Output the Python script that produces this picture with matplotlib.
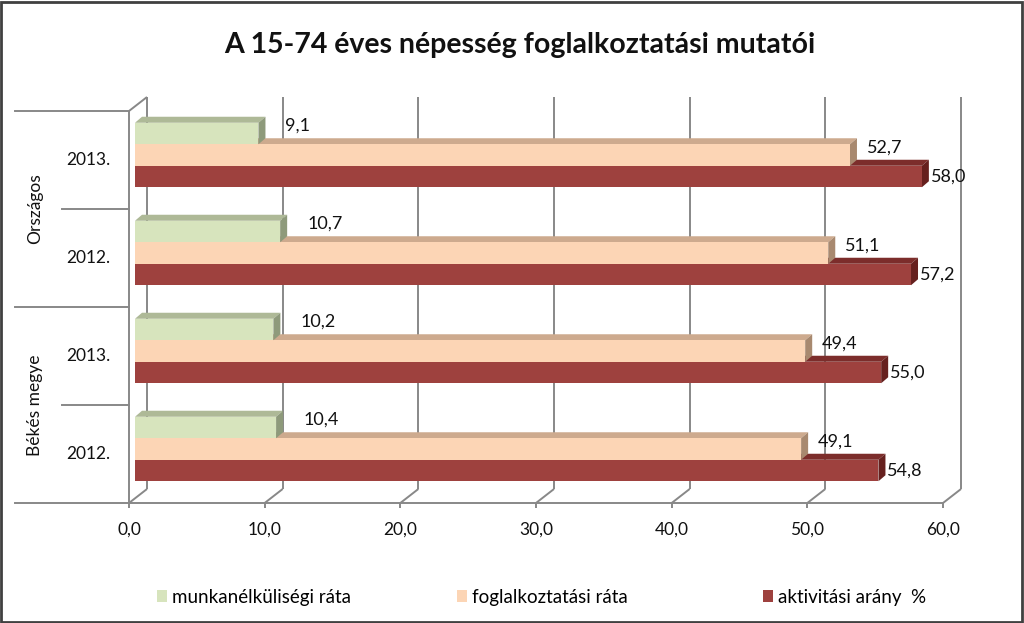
import matplotlib
matplotlib.use("Agg")
import matplotlib.pyplot as plt
import matplotlib.transforms as mtransforms
from matplotlib.patches import Polygon, Patch, Rectangle

plt.rcParams["font.family"] = ["Lato", "DejaVu Sans"]

# --- data ---
groups = ["Békés megye", "Országos"]
years = ["2012.", "2013.", "2012.", "2013."]          # bottom -> top
series = ["munkanélküliségi ráta", "foglalkoztatási ráta", "aktivitási arány  %"]
unemployment = [10.4, 10.2, 10.7, 9.1]
employment = [49.1, 49.4, 51.1, 52.7]
activity = [54.8, 55.0, 57.2, 58.0]
xticks = [0, 10, 20, 30, 40, 50, 60]

front_col = ["#D7E4BD", "#FCD5B5", "#9E413E"]
top_col = ["#AEB997", "#CDAA8E", "#7C2D2B"]
side_col = ["#8E9A7B", "#A8896F", "#66201E"]
grid_col = "#888888"

fig = plt.figure(figsize=(10.24, 6.23), dpi=100)
W, H = 1024, 623
x0, x1, ytop, ybot = 135, 949, 106, 498
ax = fig.add_axes([x0 / W, (H - ybot) / H, (x1 - x0) / W, (ybot - ytop) / H])
ax.set_xlim(0, 60)
ax.set_ylim(0, 4)
ax.axis("off")

ux = (x1 - x0) / 60.0      # pixels per x unit
uy = (ybot - ytop) / 4.0   # pixels per y unit


def off(px, py):
    return px / ux, py / uy


fdx, fdy = off(-6, -5)     # front plane offset
bdx, bdy = off(12, 9)      # back wall offset
ddx, ddy = off(7, 6)       # bar depth

line_kw = dict(color=grid_col, lw=1.4, clip_on=False, solid_capstyle="butt")

# back wall gridlines
for v in xticks:
    ax.plot([v + bdx, v + bdx], [0 + bdy, 4 + bdy], zorder=1, **line_kw)
# floor: front edge, diagonals and small ticks
ax.plot([0 + fdx, 60 + fdx], [fdy, fdy], zorder=1, **line_kw)
tick_len = 5 / uy
for v in xticks:
    ax.plot([v + fdx, v + bdx], [fdy, bdy], zorder=1, **line_kw)
    ax.plot([v + fdx, v + fdx], [fdy, fdy - tick_len], zorder=1, **line_kw)
    ax.text(v + fdx, fdy - 27 / uy, f"{v:.1f}".replace(".", ","),
            ha="center", va="center", fontsize=12.5, color="#111111")
# left wall
ax.plot([fdx, fdx], [fdy, 4 + fdy], zorder=1, **line_kw)
ax.plot([fdx, bdx], [4 + fdy, 4 + bdy], zorder=1, **line_kw)

# category separators and labels (front plane)
blend = mtransforms.blended_transform_factory(fig.transFigure, ax.transData)
for i in range(5):
    xs = 15 / W if i % 2 == 0 else 62 / W
    ax.plot([xs, (x0 - 6) / W], [i + fdy, i + fdy], transform=blend,
            color=grid_col, lw=1.4, clip_on=False)
for i, yr in enumerate(years):
    ax.text(fdx - 19 / ux, i + 0.5 + fdy, yr, ha="right", va="center",
            fontsize=12.5, color="#111111")
for j, g in enumerate(groups):
    ax.text(35 / W, 2 * j + 1 + fdy, g, transform=blend, rotation=90,
            ha="center", va="center", fontsize=12.5, color="#111111")

# bars
bh = 21.5 / uy
values = [unemployment, employment, activity]
label_dx = [20, 10, 2]
for s in [2, 1, 0]:
    z = 3 + (2 - s) * 2
    for g, v in enumerate(values[s]):
        yc = g + 0.5 + (1 - s) * bh
        yt, yb = yc + bh / 2, yc - bh / 2
        ax.add_patch(Polygon([(0, yt), (v, yt), (v + ddx, yt + ddy), (ddx, yt + ddy)],
                             closed=True, fc=top_col[s], ec="none", zorder=z, clip_on=False))
        ax.add_patch(Polygon([(v, yb), (v + ddx, yb + ddy), (v + ddx, yt + ddy), (v, yt)],
                             closed=True, fc=side_col[s], ec="none", zorder=z, clip_on=False))
        ax.barh(yc, v, height=bh, color=front_col[s], edgecolor="none",
                zorder=z + 1, clip_on=False)
        ly = yc if s == 2 else yt - 3 / uy
        ax.text(v + ddx + label_dx[s] / ux, ly, f"{v:.1f}".replace(".", ","),
                ha="left", va="center", fontsize=13, color="#111111", zorder=10)

# title
fig.text(520 / W, (H - 45) / H, "A 15-74 éves népesség foglalkoztatási mutatói",
         ha="center", va="center", fontsize=20.5, fontweight="bold", color="#111111")

# legend
leg_x = [157, 457, 763]
for s in range(3):
    fig.legend(handles=[Patch(fc=front_col[s], ec="none")], labels=[series[s]],
               loc="center left", bbox_to_anchor=(leg_x[s] / W, (H - 597) / H),
               frameon=False, fontsize=13.5, handlelength=0.55, handleheight=0.65,
               handletextpad=0.25, borderpad=0, borderaxespad=0)

# outer border
fig.add_artist(Rectangle((0.001, 0.002), 0.997, 0.995, transform=fig.transFigure,
                         fill=False, ec="#404040", lw=2))

fig.savefig("out.png", dpi=100)
